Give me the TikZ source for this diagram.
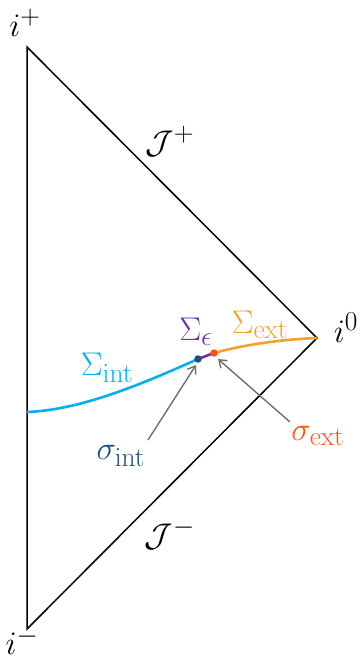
\RequirePackage{fix-cm}
\documentclass[tikz,border=0pt]{standalone}
\usetikzlibrary{arrows.meta}
\definecolor{cint}{RGB}{0,176,240}
\definecolor{ceps}{RGB}{112,48,160}
\definecolor{cext}{RGB}{245,160,40}
\definecolor{csint}{RGB}{31,78,121}
\definecolor{csext}{RGB}{255,85,20}
\definecolor{carrow}{RGB}{110,110,110}
\begin{document}
\begin{tikzpicture}[x=1pt,y=-1pt,
  lbl/.style={inner sep=0pt,font=\Huge,scale=1.32},
  edge/.style={line width=1.5pt,black},
  slice/.style={line width=2.6pt},
  pointer/.style={line width=1.4pt,carrow,-{Straight Barb[length=7pt,width=10pt,line width=1.4pt]}},
  dot/.style={circle,inner sep=0pt,minimum size=7.5pt}]
\useasboundingbox (0,0) rectangle (361,663);
% triangle corners
\coordinate (top) at (27,47);
\coordinate (bot) at (27,629);
\coordinate (io) at (317,338);
\draw[edge,line join=miter] (top) -- (io) -- (bot) -- cycle;
% slices
\coordinate (left) at (27,412);
\coordinate (pint) at (198,359);
\coordinate (pext) at (214,353);
\draw[slice,cint] (left) .. controls (80,410) and (140,385) .. (pint);
\draw[slice,ceps] (pint) -- (pext);
\draw[slice,cext] (pext) .. controls (250,343) and (290,339) .. (io);
\node[dot,fill=csint] (dint) at (pint) {};
\node[dot,fill=csext] (dext) at (pext) {};
% labels
\node[lbl] (ip) at (25,23) {$i^+$};
\node[lbl] (im) at (22,641) {$i^-$};
\node[lbl] (i0) at (346,328) {$i^0$};
\node[lbl] (jp) at (170,141) {$\mathcal{J}^+$};
\node[lbl] (jm) at (170,534) {$\mathcal{J}^-$};
\node[lbl,text=cint] (sint) at (107,368) {$\Sigma_{\mathrm{int}}$};
\node[lbl,text=ceps] (seps) at (196,332) {$\Sigma_{\epsilon}$};
\node[lbl,text=cext] (sext) at (260,325) {$\Sigma_{\mathrm{ext}}$};
\node[lbl,text=csint] (lint) at (121,456) {$\sigma_{\mathrm{int}}$};
\node[lbl,text=csext] (lext) at (318,436) {$\sigma_{\mathrm{ext}}$};
% pointers
\coordinate (tint) at (148,440);
\coordinate (text) at (290,422);
\draw[pointer] (tint) -- ([shift={(-2,6)}]dint.center);
\draw[pointer] (text) -- ([shift={(4,6)}]dext.center);
\end{tikzpicture}
\end{document}
